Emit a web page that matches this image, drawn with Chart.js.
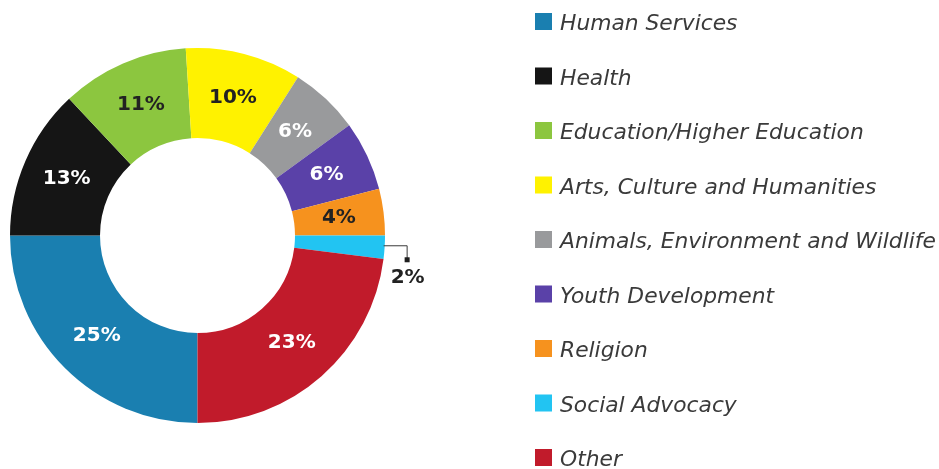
<!DOCTYPE html>
<html>
<head>
<meta charset="utf-8">
<title>Giving by Cause</title>
<script src="https://cdn.jsdelivr.net/npm/chart.js@4.4.1/dist/chart.umd.min.js"></script>
<style>
  html, body { margin: 0; padding: 0; background: #ffffff; }
  #wrap { width: 939px; height: 469px; position: relative; }
</style>
</head>
<body>
<div id="wrap"><canvas id="chart" width="939" height="469"></canvas></div>
<script>
// Share of giving by cause (percent)
const categories = [
  'Human Services',
  'Health',
  'Education/Higher Education',
  'Arts, Culture and Humanities',
  'Animals, Environment and Wildlife',
  'Youth Development',
  'Religion',
  'Social Advocacy',
  'Other'
];
const shares = [25, 13, 11, 10, 6, 6, 4, 2, 23];
const valueLabels = ['25%', '13%', '11%', '10%', '6%', '6%', '4%', '2%', '23%'];

const sliceColors = ['#1a7fb0', '#151515', '#8cc63f', '#fff200', '#999a9c', '#5a41a8', '#f6921e', '#22c4f2', '#c11b2b'];
const labelColors = ['#ffffff', '#ffffff', '#222222', '#222222', '#ffffff', '#ffffff', '#222222', '#222222', '#ffffff'];
// slices too thin for an inside label get a leader line instead
const outsideLabel = [false, false, false, false, false, false, false, true, false];

const LABEL_FONT = 'bold 20px "DejaVu Sans", sans-serif';
const LEGEND_FONT = 'italic 21.8px "DejaVu Sans", sans-serif';

const sliceLabels = {
  id: 'sliceLabels',
  afterDatasetsDraw(chart) {
    const ctx = chart.ctx;
    const meta = chart.getDatasetMeta(0);
    ctx.save();
    ctx.font = LABEL_FONT;
    ctx.textAlign = 'center';
    ctx.textBaseline = 'middle';
    meta.data.forEach((arc, i) => {
      if (!outsideLabel[i]) {
        const p = arc.getCenterPoint();
        ctx.fillStyle = labelColors[i];
        ctx.fillText(valueLabels[i], p.x, p.y);
        return;
      }
      const a = (arc.startAngle + arc.endAngle) / 2;
      const ex = arc.x + Math.cos(a) * arc.outerRadius - 1;
      const ey = arc.y + Math.sin(a) * arc.outerRadius - 2;
      const elbowX = ex + 23;
      const dropY = ey + 13;
      ctx.strokeStyle = '#3a3a3a';
      ctx.lineWidth = 1;
      ctx.beginPath();
      ctx.moveTo(ex, ey + 0.5);
      ctx.lineTo(elbowX + 0.5, ey + 0.5);
      ctx.lineTo(elbowX + 0.5, dropY);
      ctx.stroke();
      ctx.fillStyle = '#1e1e1e';
      ctx.fillRect(elbowX - 2, dropY - 1, 5, 5);
      ctx.fillStyle = labelColors[i];
      ctx.fillText(valueLabels[i], elbowX + 1, dropY + 20);
    });
    ctx.restore();
  }
};

const sideLegend = {
  id: 'sideLegend',
  afterDraw(chart) {
    const ctx = chart.ctx;
    const ds = chart.data.datasets[0];
    const boxX = 535, box = 17, textX = 560, firstY = 21.5, step = 54.5;
    ctx.save();
    ctx.font = LEGEND_FONT;
    ctx.textAlign = 'left';
    ctx.textBaseline = 'alphabetic';
    chart.data.labels.forEach((label, i) => {
      const cy = firstY + i * step;
      ctx.fillStyle = ds.backgroundColor[i];
      ctx.fillRect(boxX, cy - box / 2, box, box);
      ctx.fillStyle = '#3a3a3a';
      ctx.fillText(label, textX, cy + box / 2);
    });
    ctx.restore();
  }
};

const whiteBackground = {
  id: 'whiteBackground',
  beforeDraw(chart) {
    const ctx = chart.ctx;
    ctx.save();
    ctx.fillStyle = '#ffffff';
    ctx.fillRect(0, 0, chart.width, chart.height);
    ctx.restore();
  }
};

new Chart(document.getElementById('chart'), {
  type: 'doughnut',
  data: {
    labels: categories,
    datasets: [{
      data: shares,
      backgroundColor: sliceColors,
      borderWidth: 0,
      hoverOffset: 0
    }]
  },
  options: {
    responsive: false,
    animation: false,
    rotation: 180,
    cutout: '52%',
    layout: { padding: { left: 10, right: 554, top: 48, bottom: 46 } },
    plugins: {
      legend: { display: false },
      tooltip: { enabled: false }
    }
  },
  plugins: [whiteBackground, sliceLabels, sideLegend]
});
</script>
</body>
</html>
